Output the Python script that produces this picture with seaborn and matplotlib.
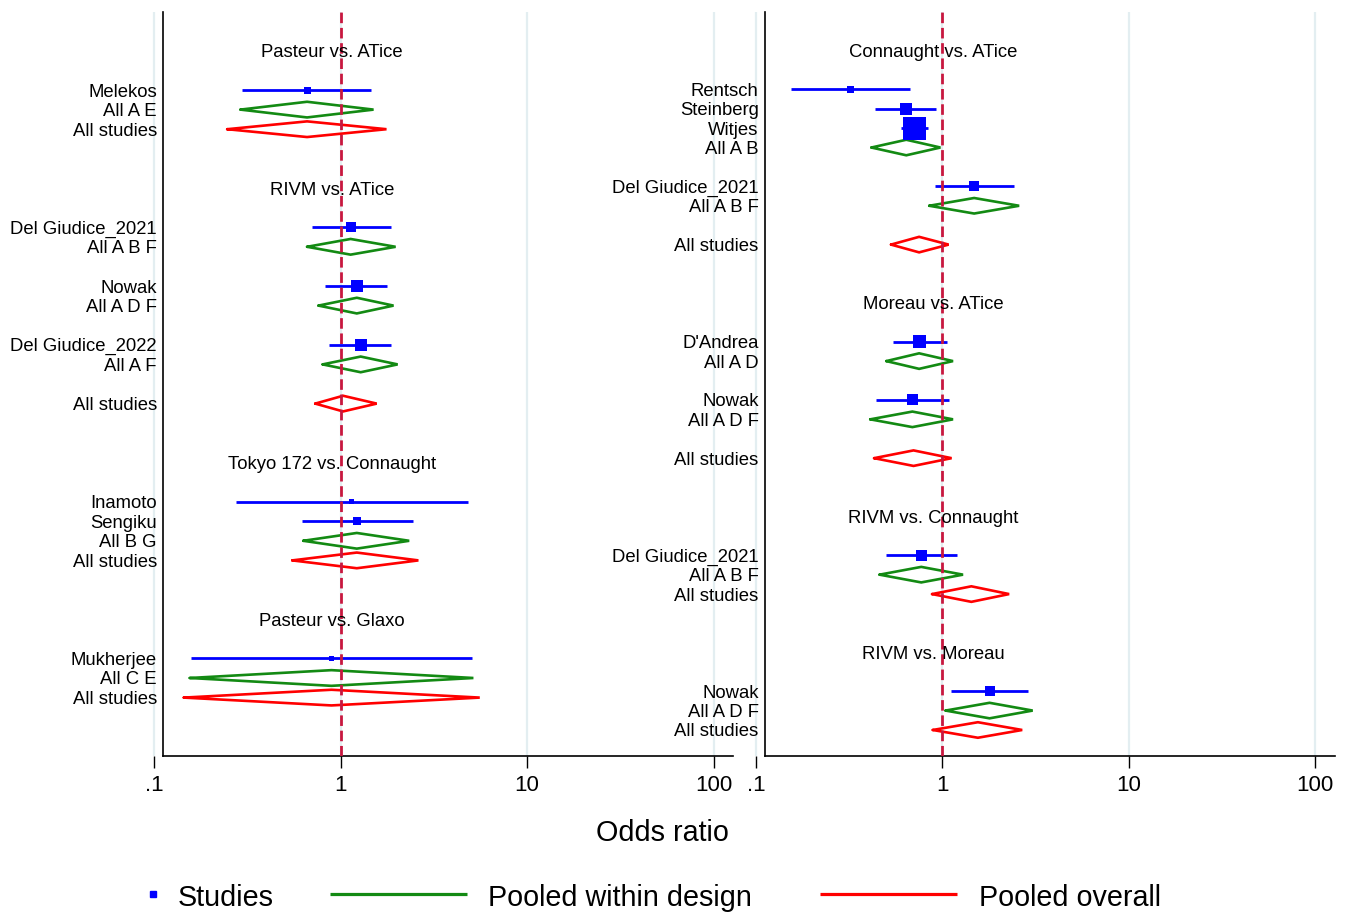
import numpy as np
import pandas as pd
import matplotlib
matplotlib.use("Agg")
import matplotlib.pyplot as plt
import seaborn as sns

# ---------------- data ----------------
nan = np.nan
# left panel
L_labels = ["Pasteur vs. ATice", "", "Melekos", "All A E", "All studies", "", "",
            "RIVM vs. ATice", "", "Del Giudice_2021", "All A B F", "", "Nowak", "All A D F", "",
            "Del Giudice_2022", "All A F", "", "All studies", "", "",
            "Tokyo 172 vs. Connaught", "", "Inamoto", "Sengiku", "All B G", "All studies", "", "",
            "Pasteur vs. Glaxo", "", "Mukherjee", "All C E", "All studies"]
L_kind = ["head", "gap", "study", "design", "overall", "gap", "gap",
          "head", "gap", "study", "design", "gap", "study", "design", "gap",
          "study", "design", "gap", "overall", "gap", "gap",
          "head", "gap", "study", "study", "design", "overall", "gap", "gap",
          "head", "gap", "study", "design", "overall"]
L_est = [nan, nan, 0.66, 0.66, 0.66, nan, nan,
         nan, nan, 1.13, 1.13, nan, 1.22, 1.22, nan,
         1.28, 1.28, nan, 1.03, nan, nan,
         nan, nan, 1.14, 1.23, 1.22, 1.22, nan, nan,
         nan, nan, 0.892, 0.892, 0.892]
L_lo = [nan, nan, 0.296, 0.29, 0.246, nan, nan,
        nan, nan, 0.70, 0.66, nan, 0.82, 0.76, nan,
        0.87, 0.80, nan, 0.73, nan, nan,
        nan, nan, 0.275, 0.62, 0.63, 0.55, nan, nan,
        nan, nan, 0.157, 0.155, 0.144]
L_hi = [nan, nan, 1.45, 1.50, 1.76, nan, nan,
        nan, nan, 1.85, 1.97, nan, 1.78, 1.92, nan,
        1.87, 2.02, nan, 1.56, nan, nan,
        nan, nan, 4.82, 2.45, 2.33, 2.61, nan, nan,
        nan, nan, 5.05, 5.15, 5.57]
L_weight = [nan, nan, 7, nan, nan, nan, nan,
            nan, nan, 10, nan, nan, 12, nan, nan,
            12, nan, nan, nan, nan, nan,
            nan, nan, 5, 8, nan, nan, nan, nan,
            nan, nan, 5, nan, nan]

# right panel
R_labels = ["Connaught vs. ATice", "", "Rentsch", "Steinberg", "Witjes", "All A B", "",
            "Del Giudice_2021", "All A B F", "", "All studies", "", "",
            "Moreau vs. ATice", "", "D'Andrea", "All A D", "", "Nowak", "All A D F", "",
            "All studies", "", "",
            "RIVM vs. Connaught", "", "Del Giudice_2021", "All A B F", "All studies", "", "",
            "RIVM vs. Moreau", "", "Nowak", "All A D F", "All studies"]
R_kind = ["head", "gap", "study", "study", "study", "design", "gap",
          "study", "design", "gap", "overall", "gap", "gap",
          "head", "gap", "study", "design", "gap", "study", "design", "gap",
          "overall", "gap", "gap",
          "head", "gap", "study", "design", "overall", "gap", "gap",
          "head", "gap", "study", "design", "overall"]
R_est = [nan, nan, 0.32, 0.637, 0.706, 0.64, nan,
         1.48, 1.48, nan, 0.75, nan, nan,
         nan, nan, 0.75, 0.75, nan, 0.69, 0.69, nan,
         0.70, nan, nan,
         nan, nan, 0.77, 0.77, 1.43, nan, nan,
         nan, nan, 1.79, 1.79, 1.55]
R_lo = [nan, nan, 0.154, 0.437, 0.597, 0.416, nan,
        0.91, 0.85, nan, 0.53, nan, nan,
        nan, nan, 0.54, 0.50, nan, 0.44, 0.41, nan,
        0.43, nan, nan,
        nan, nan, 0.50, 0.46, 0.88, nan, nan,
        nan, nan, 1.11, 1.04, 0.888]
R_hi = [nan, nan, 0.668, 0.925, 0.839, 0.976, nan,
        2.42, 2.58, nan, 1.08, nan, nan,
        nan, nan, 1.06, 1.14, nan, 1.08, 1.14, nan,
        1.12, nan, nan,
        nan, nan, 1.20, 1.29, 2.28, nan, nan,
        nan, nan, 2.87, 3.05, 2.68]
R_weight = [nan, nan, 7, 12, 23, nan, nan,
            10, nan, nan, nan, nan, nan,
            nan, nan, 13, nan, nan, 11, nan, nan,
            nan, nan, nan,
            nan, nan, 11, nan, nan, nan, nan,
            nan, nan, 10, nan, nan]

TICKS = [0.1, 1, 10, 100]
TICK_LABELS = [".1", "1", "10", "100"]
XLABEL = "Odds ratio"
LEGEND_LABELS = ["Studies", "Pooled within design", "Pooled overall"]

# ---------------- style ----------------
BLUE = "#0000ff"
GREEN = "#138a13"
RED = "#ff0000"
REF = "#c8173f"
GRID = "#e3eef1"

sns.set_theme(style="white")
plt.rcParams["font.family"] = ["Liberation Sans", "DejaVu Sans"]
plt.rcParams["text.color"] = "black"
plt.rcParams["axes.labelcolor"] = "black"
plt.rcParams["xtick.color"] = "black"
plt.rcParams["ytick.color"] = "black"

W, H = 1350, 913
fig = plt.figure(figsize=(W / 100, H / 100), dpi=100)

XLIM = (10 ** -1.0177, 10 ** 2.1045)
SPINE_X = 0.112
DH = 0.4  # diamond half height in rows


def draw_panel(ax, labels, kind, est, lo, hi, wt, ylim):
    df = pd.DataFrame(dict(label=labels, kind=kind, est=est, lo=lo, hi=hi, wt=wt))
    df["row"] = np.arange(len(df), dtype=float)
    ax.set_xscale("log")
    ax.set_xlim(*XLIM)
    ax.set_ylim(*ylim)
    ax.set_xticks(TICKS, TICK_LABELS)
    ax.minorticks_off()
    ax.xaxis.grid(True, color=GRID, lw=1.6, zorder=0)
    ax.yaxis.grid(False)
    ax.set_axisbelow(True)

    ax.axvline(1, color=REF, lw=2.0, ls=(0, (3.8, 1.7)), zorder=4)

    st = df[df.kind == "study"].copy()
    ax.hlines(st.row, st.lo, st.hi, color=BLUE, lw=2.0, zorder=3)
    st["area"] = (st.wt * 0.72) ** 2
    amin, amax = st.area.min(), st.area.max()
    sns.scatterplot(data=st, x="est", y="row", size="area", sizes=(amin, amax),
                    size_norm=(amin, amax), marker="s", color=BLUE, linewidth=0,
                    legend=False, ax=ax, zorder=5)

    for kd, col in [("design", GREEN), ("overall", RED)]:
        sub = df[df.kind == kd]
        for _, r in sub.iterrows():
            ax.plot([r.lo, r.est, r.hi, r.est, r.lo],
                    [r.row, r.row - DH, r.row, r.row + DH, r.row],
                    color=col, lw=1.9, zorder=3, solid_joinstyle="miter")

    for _, r in df[df.kind == "head"].iterrows():
        ax.text(0.895, r.row, r.label, ha="center", va="center_baseline",
                fontsize=13.3, color="black", zorder=6)

    lab = df[df.kind.isin(["study", "design", "overall"])]
    ax.set_yticks(lab.row, lab.label)
    ax.tick_params(axis="y", length=0, pad=4.7, labelsize=13.3, colors="black")
    ax.tick_params(axis="x", length=8.6, width=1.0, pad=5, labelsize=16,
                   direction="out", colors="black", bottom=True)
    ax.set_xlabel("")
    ax.set_ylabel("")
    for s in ["top", "right"]:
        ax.spines[s].set_visible(False)
    ax.spines["left"].set_position(("data", SPINE_X))
    ax.spines["left"].set_color("black")
    ax.spines["left"].set_linewidth(1.2)
    ax.spines["bottom"].set_color("black")
    ax.spines["bottom"].set_linewidth(1.2)
    ax.spines["bottom"].set_bounds(SPINE_X, XLIM[1])


top_px, bot_px = 12, 756
axL = fig.add_axes([151 / W, 1 - bot_px / H, 582 / W, (bot_px - top_px) / H])
axR = fig.add_axes([752.7 / W, 1 - bot_px / H, 582 / W, (bot_px - top_px) / H])

draw_panel(axL, L_labels, L_kind, L_est, L_lo, L_hi, L_weight, (35.98, -1.98))
draw_panel(axR, R_labels, R_kind, R_est, R_lo, R_hi, R_weight, (36.34, -1.98))

# overlay in pixel coords for x title and legend
ov = fig.add_axes([0, 0, 1, 1])
ov.set_xlim(0, W)
ov.set_ylim(H, 0)
ov.axis("off")
ov.text(662.5, 841, XLABEL, ha="center", va="baseline", fontsize=20.7, color="black")

ov.plot([153], [894.5], marker="s", ms=4.3, color=BLUE, ls="none")
ov.text(177.7, 905.7, LEGEND_LABELS[0], ha="left", va="baseline", fontsize=20.7, color="black")
ov.plot([330, 467], [894, 894], color=GREEN, lw=2.3, solid_capstyle="butt")
ov.text(488.3, 905.7, LEGEND_LABELS[1], ha="left", va="baseline", fontsize=20.7, color="black")
ov.plot([820, 957], [894, 894], color=RED, lw=2.3, solid_capstyle="butt")
ov.text(979.3, 905.7, LEGEND_LABELS[2], ha="left", va="baseline", fontsize=20.7, color="black")

fig.savefig("out.png", dpi=100, facecolor="white")
